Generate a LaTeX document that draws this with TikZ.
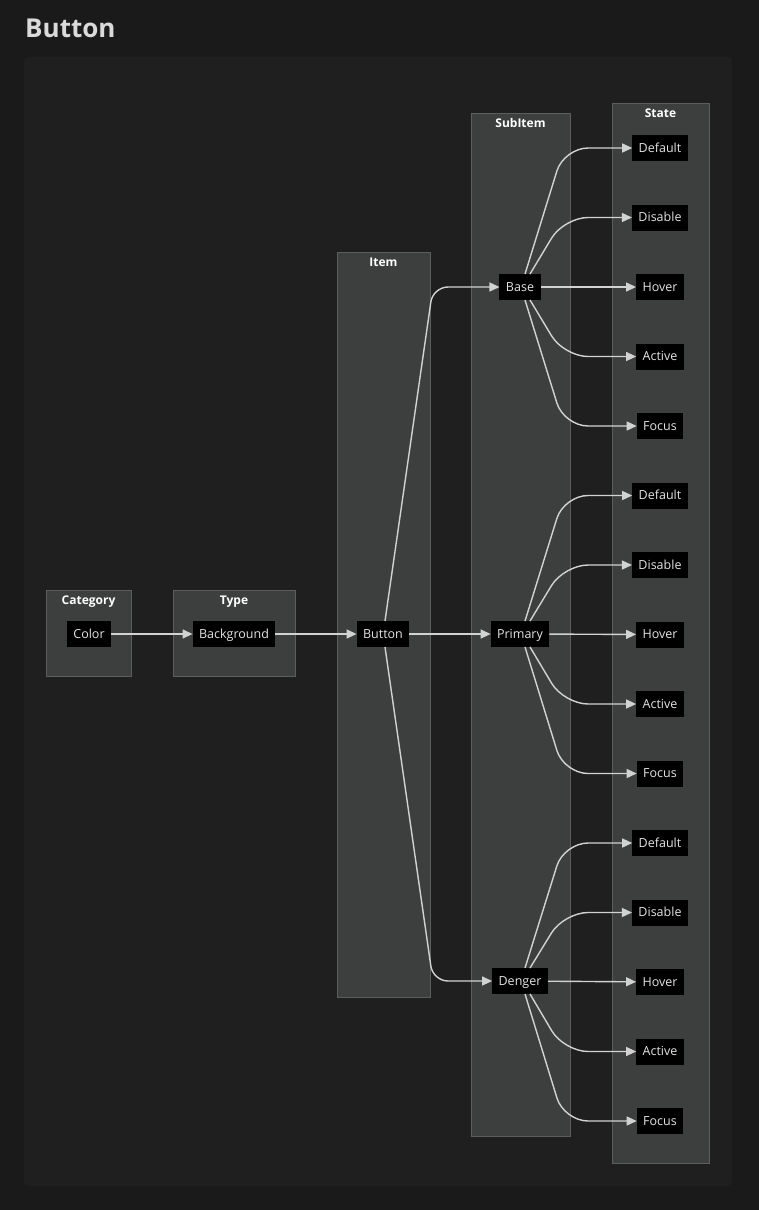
\documentclass[tikz,border=0pt]{standalone}
\usepackage{fontspec}
\setmainfont{Open Sans}
\usetikzlibrary{positioning,arrows.meta,calc}
\definecolor{pageBg}{HTML}{1A1A1A}
\definecolor{panelBg}{HTML}{1F1F1F}
\definecolor{clusterFill}{HTML}{3D3F3F}
\definecolor{clusterLine}{HTML}{5C5E5E}
\definecolor{edgeCol}{HTML}{D2D2D2}
\definecolor{txtCol}{HTML}{E4E4E4}
\definecolor{titleCol}{HTML}{DADADA}

\begin{document}
\begin{tikzpicture}[
    x=1pt, y=-1pt,
    >={Triangle[length=10pt,width=9pt]},
    font=\fontsize{12.5}{14}\selectfont,
    node distance=43.5pt,
    item/.style={fill=black, text=txtCol, minimum height=26pt, outer sep=0pt,
      text height=10.5pt, text depth=2.5pt, inner xsep=6.5pt, inner ysep=0pt},
    cluster/.style={draw=clusterLine, fill=clusterFill, line width=0.8pt},
    clab/.style={anchor=base, text=white, font=\fontsize{12}{14}\selectfont\bfseries},
    edge/.style={->, draw=edgeCol, line width=1.4pt},
    fan/.style={edge, rounded corners=24pt},
  ]

% Page and panel
\useasboundingbox (0,0) rectangle (759,1210);
\fill[pageBg] (0,0) rectangle (759,1210);
\fill[panelBg, rounded corners=4pt] (24,57) rectangle (732,1186);
\node[anchor=base west, inner sep=0pt, text=titleCol,
  font=\fontsize{26}{30}\selectfont\bfseries] (title) at (25,37) {Button};

% Clusters
\draw[cluster] (46,590) rectangle (131,676);
\node[clab] (catLab) at (88.5,604.5) {Category};
\draw[cluster] (173,590) rectangle (295,676);
\node[clab] (typeLab) at (234,604.5) {Type};
\draw[cluster] (337,252) rectangle (430,997);
\node[clab] (itemLab) at (383.5,266.5) {Item};
\draw[cluster] (471,113) rectangle (570,1136);
\node[clab] (subLab) at (520.5,127.5) {SubItem};
\draw[cluster] (612,103) rectangle (709,1163);
\node[clab] (stateLab) at (660.5,117.5) {State};

% Main chain
\node[item] (color) at (89,634) {Color};
\node[item] (bg) at (234,634) {Background};
\node[item] (button) at (383,634) {Button};
\node[item] (base) at (520,287) {Base};
\node[item] (primary) at (520,634) {Primary};
\node[item] (denger) at (520,981) {Denger};

% States, one column
\node[item] (baseDefault) at (660,148) {Default};
\node[item, below=of baseDefault] (baseDisable) {Disable};
\node[item, below=of baseDisable] (baseHover) {Hover};
\node[item, below=of baseHover] (baseActive) {Active};
\node[item, below=of baseActive] (baseFocus) {Focus};
\node[item, below=of baseFocus] (primDefault) {Default};
\node[item, below=of primDefault] (primDisable) {Disable};
\node[item, below=of primDisable] (primHover) {Hover};
\node[item, below=of primHover] (primActive) {Active};
\node[item, below=of primActive] (primFocus) {Focus};
\node[item, below=of primFocus] (dengDefault) {Default};
\node[item, below=of dengDefault] (dengDisable) {Disable};
\node[item, below=of dengDisable] (dengHover) {Hover};
\node[item, below=of dengHover] (dengActive) {Active};
\node[item, below=of dengActive] (dengFocus) {Focus};

% Bend columns for the curved edges
\coordinate (itembend) at (433,0);
\coordinate (fanbend) at (564,0);

% Edges
\draw[edge] (color) -- (bg);
\draw[edge] (bg) -- (button);
\draw[edge] (button) -- (primary);
\draw[edge, rounded corners=15pt] ($(button.north)+(2,0)$) -- (itembend |- base) -- (base);
\draw[edge, rounded corners=15pt] ($(button.south)+(2,0)$) -- (itembend |- denger) -- (denger);

\draw[fan] ($(base.north)+(5,0)$) -- (fanbend |- baseDefault) -- (baseDefault);
\draw[fan] ($(base.north)+(10,0)$) -- (fanbend |- baseDisable) -- (baseDisable);
\draw[edge] (base) -- (baseHover);
\draw[fan] ($(base.south)+(10,0)$) -- (fanbend |- baseActive) -- (baseActive);
\draw[fan] ($(base.south)+(5,0)$) -- (fanbend |- baseFocus) -- (baseFocus);

\draw[fan] ($(primary.north)+(5,0)$) -- (fanbend |- primDefault) -- (primDefault);
\draw[fan] ($(primary.north)+(10,0)$) -- (fanbend |- primDisable) -- (primDisable);
\draw[edge] (primary) -- (primHover);
\draw[fan] ($(primary.south)+(10,0)$) -- (fanbend |- primActive) -- (primActive);
\draw[fan] ($(primary.south)+(5,0)$) -- (fanbend |- primFocus) -- (primFocus);

\draw[fan] ($(denger.north)+(5,0)$) -- (fanbend |- dengDefault) -- (dengDefault);
\draw[fan] ($(denger.north)+(10,0)$) -- (fanbend |- dengDisable) -- (dengDisable);
\draw[edge] (denger) -- (dengHover);
\draw[fan] ($(denger.south)+(10,0)$) -- (fanbend |- dengActive) -- (dengActive);
\draw[fan] ($(denger.south)+(5,0)$) -- (fanbend |- dengFocus) -- (dengFocus);

\end{tikzpicture}
\end{document}
